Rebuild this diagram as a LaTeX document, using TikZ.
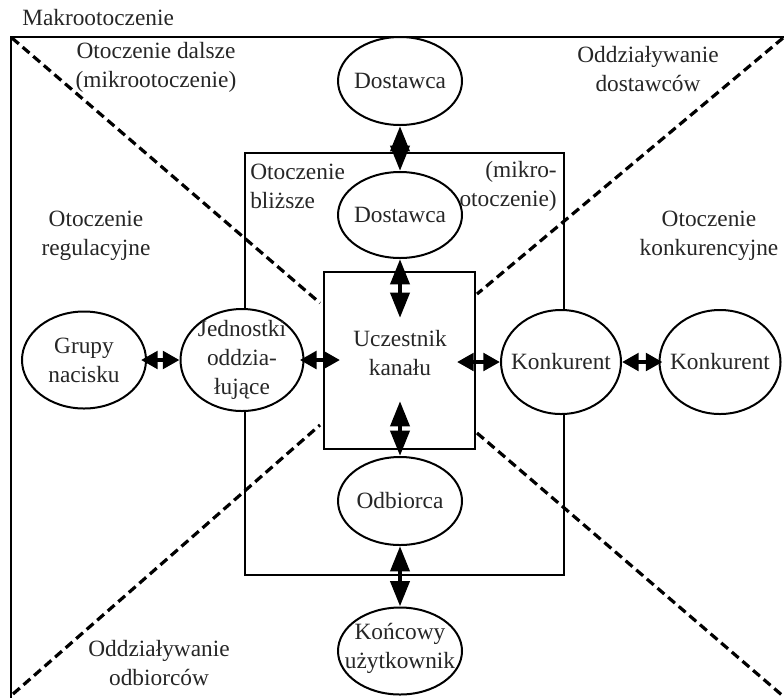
\documentclass[tikz,border=0pt]{standalone}
\usepackage{fontspec}
\setmainfont{Liberation Serif}
\usetikzlibrary{arrows.meta,shapes.geometric}
\begin{document}
\begin{tikzpicture}[x=0.75pt,y=-0.75pt,
  txt/.style={align=center,text=black!85,font=\fontsize{17.5}{21.75}\selectfont,inner sep=0pt},
  ell/.style={draw,fill=white,ellipse,line width=1.5pt,inner sep=0pt},
  boxline/.style={draw,line width=1.5pt},
  dashline/.style={line width=2.4pt,dash pattern=on 6.75pt off 3.75pt},
  varrow/.style={line width=3.5pt,{Triangle[length=19pt,width=14pt]}-{Triangle[length=19pt,width=14pt]}},
  harrow/.style={line width=3.5pt,{Triangle[length=12.5pt,width=13pt]}-{Triangle[length=12.5pt,width=13pt]}},
]
\useasboundingbox (0,0) rectangle (784,697);
\clip (0,0) rectangle (784,697);

% frames
\draw[boxline] (11,37) rectangle (792,705);
\draw[boxline] (245,153) rectangle (564,575);

% dashed diagonals
\draw[dashline] (12,38) -- (320,303);
\draw[dashline] (783,38) -- (477,294);
\draw[dashline] (13,694) -- (320,425);
\draw[dashline] (477,433) -- (783,696);

% central box
\node[boxline,minimum width=113.25pt,minimum height=132.75pt,inner sep=0pt] (ucz) at (399.5,360.5) {};
\node[txt] (ucztxt) at (400,353) {Uczestnik\\kanału};

% ellipses
\node[ell,minimum width=93pt,minimum height=66pt,label={[txt]center:Dostawca}] (d1) at (400,81) {};
\node[ell,minimum width=93pt,minimum height=64.5pt,label={[txt]center:Dostawca}] (d2) at (400,215) {};
\node[ell,minimum width=93pt,minimum height=72.75pt,label={[txt]center:{Grupy\\nacisku}}] (grupy) at (84,360) {};
\node[ell,minimum width=92.25pt,minimum height=76.5pt,label={[txt]center:{Jednostki\\oddzia-\\łujące}}] (jedn) at (242,360) {};
\node[ell,minimum width=90pt,minimum height=78pt,label={[txt]center:Konkurent}] (k1) at (561,362) {};
\node[ell,minimum width=90.75pt,minimum height=78pt,label={[txt]center:Konkurent}] (k2) at (720,362) {};
\node[ell,minimum width=93pt,minimum height=66pt,label={[txt]center:Odbiorca}] (odb) at (400,501) {};
\node[ell,minimum width=93pt,minimum height=65.25pt,label={[txt,yshift=2pt]center:{Końcowy\\użytkownik}}] (konc) at (400,651) {};

% arrows
\coordinate (u1) at (400,318);
\coordinate (u2) at (400,401);
\coordinate (u3) at (340,360);
\coordinate (u4) at (457,362);
\draw[varrow] (d1.south) -- (d2.north);
\draw[varrow] (d2.south) -- (u1);
\draw[varrow] (u2) -- (odb.north);
\draw[varrow] (odb.south) -- (konc.north);
\draw[harrow] ([xshift=-4.5pt]grupy.east) -- (jedn.west);
\draw[harrow] ([xshift=-3.5pt]jedn.east) -- (u3);
\draw[harrow] (u4) -- (k1.west);
\draw[harrow] (k1.east) -- ([xshift=3pt]k2.west);

% texts
\node[txt,anchor=base west] (makro) at (22,25) {Makrootoczenie};
\node[txt] (dalsze) at (156,67) {Otoczenie dalsze\\(mikrootoczenie)};
\node[txt] (oddost) at (648,69) {Oddziaływanie\\dostawców};
\node[txt,align=left,anchor=west] (blizsze) at (250,186) {Otoczenie\\bliższe};
\node[txt,align=right,anchor=east] (mikro) at (557,186) {(mikro-\\otoczenie)};
\node[txt] (regul) at (96,236) {Otoczenie\\regulacyjne};
\node[txt] (konk) at (709,236) {Otoczenie\\konkurencyjne};
\node[txt] (ododb) at (159,663) {Oddziaływanie\\odbiorców};
\end{tikzpicture}
\end{document}
